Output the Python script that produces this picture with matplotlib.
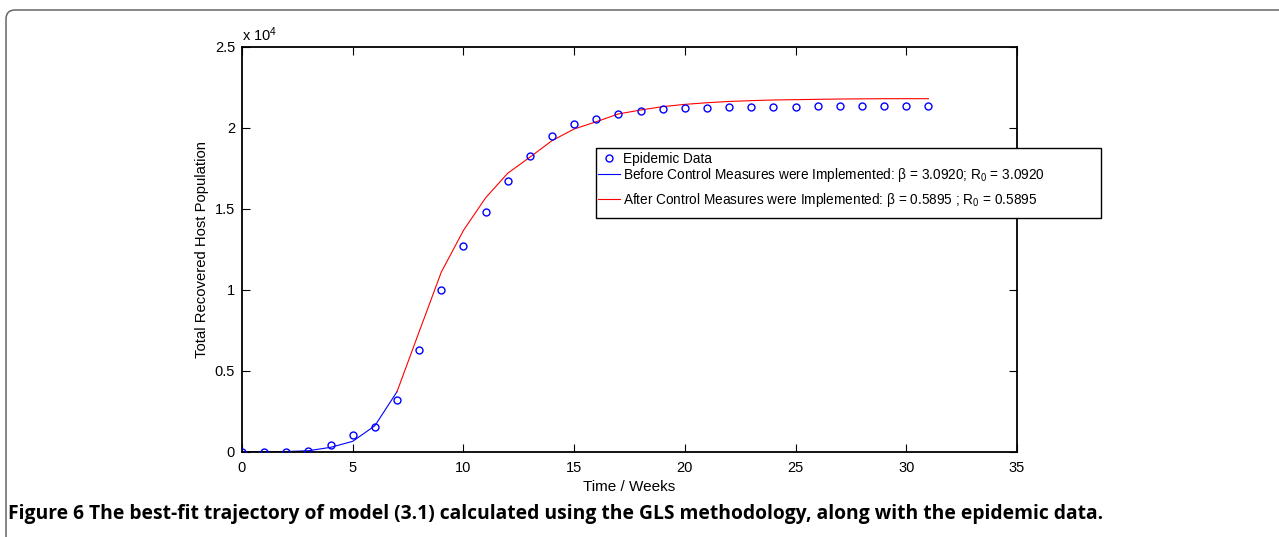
import matplotlib
matplotlib.use('Agg')

import matplotlib.pyplot as plt
from matplotlib.patches import FancyBboxPatch, Rectangle
from matplotlib.ticker import FuncFormatter, MultipleLocator
from matplotlib.transforms import IdentityTransform

plt.rcParams['font.family'] = ['Liberation Sans', 'DejaVu Sans']
plt.rcParams['mathtext.fontset'] = 'custom'
plt.rcParams['mathtext.rm'] = 'Liberation Sans'
plt.rcParams['mathtext.it'] = 'Liberation Sans'

# Weekly cumulative recovered hosts (epidemic data)
weeks = list(range(0, 32))
recovered = [0, 0, 10, 60, 410, 1050, 1540, 3200, 6300, 10000,
             12700, 14760, 16700, 18220, 19470, 20220, 20540, 20850,
             21030, 21150, 21200, 21230, 21250, 21260, 21280, 21290,
             21300, 21300, 21310, 21310, 21310, 21310]

# Model trajectory before control measures (weeks 0-7)
t_before = [0, 1, 2, 3, 4, 5, 6, 7]
fit_before = [0, 0, 10, 60, 270, 640, 1600, 3700]

# Model trajectory after control measures (weeks 7-31)
t_after = list(range(7, 32))
fit_after = [3700, 7400, 11080, 13650, 15660, 17180, 18170, 19190,
             19910, 20360, 20840, 21080, 21290, 21430, 21530, 21610,
             21660, 21700, 21720, 21740, 21760, 21770, 21780, 21780,
             21780]

legend_labels = [
    'Epidemic Data',
    r'Before Control Measures were Implemented: $\beta$ = 3.0920; R$_0$ = 3.0920',
    r'After Control Measures were Implemented: $\beta$ = 0.5895 ; R$_0$ = 0.5895',
]

W, H = 1279, 537
fig = plt.figure(figsize=(W / 100, H / 100), dpi=100)
fig.patch.set_facecolor('white')

# rounded page frame, open to the right and bottom
frame = FancyBboxPatch((6, -30), 1400, H - 10 + 30,
                       boxstyle='round,pad=0,rounding_size=9',
                       transform=IdentityTransform(), facecolor='none',
                       edgecolor='#666666', linewidth=1.1)
fig.patches.append(frame)

ax = fig.add_axes([242 / W, 1 - 451.7 / H, 775 / W, 405.2 / H])

pts, = ax.plot(weeks, recovered, 'o', color='#0000ff', markersize=5,
               markerfacecolor='none', markeredgewidth=1.0, zorder=3)
l1, = ax.plot(t_before, fit_before, color='#0000ff', linewidth=0.8)
l2, = ax.plot(t_after, fit_after, color='#ff0000', linewidth=0.8)

ax.set_xlim(0, 35)
ax.set_ylim(0, 25000)
ax.xaxis.set_major_locator(MultipleLocator(5))
ax.yaxis.set_major_locator(MultipleLocator(5000))
ax.yaxis.set_major_formatter(FuncFormatter(lambda v, p: f'{v / 1e4:g}'))
ax.tick_params(direction='in', length=5.5, width=0.8, labelsize=10.5,
               top=True, right=True, colors='black')
ax.tick_params(axis='x', pad=7)
ax.tick_params(axis='y', pad=5)
for sp in ax.spines.values():
    sp.set_linewidth(1.3)

ax.set_xlabel('Time / Weeks', fontsize=11, labelpad=3)
ax.set_ylabel('Total Recovered Host Population', fontsize=10.7, labelpad=4)
ax.text(0.0, 1.005, r'x 10$^4$', transform=ax.transAxes, fontsize=10.5,
        ha='left', va='bottom')

# legend box reaches past the right spine
box_x0, box_y0, box_x1, box_y1 = 596, 148, 1101, 218
fig.patches.append(Rectangle((box_x0 / W, 1 - box_y1 / H),
                             (box_x1 - box_x0) / W, (box_y1 - box_y0) / H,
                             transform=fig.transFigure, facecolor='white',
                             edgecolor='black', linewidth=1.0, zorder=5))
# one entry per row so the row gaps follow the subscripts
row_y = [159, 175, 200]
for handle, label, y in zip([pts, l1, l2], legend_labels, row_y):
    leg = fig.legend([handle], [label], loc='center left',
                     bbox_to_anchor=(598 / W, 1 - y / H),
                     bbox_transform=fig.transFigure, frameon=False,
                     fontsize=9.8, handlelength=1.6, handletextpad=0.25,
                     borderpad=0, borderaxespad=0)
    leg.set_zorder(6)

fig.text(8 / W, 1 - 519 / H,
         'Figure 6 The best-fit trajectory of model (3.1) calculated using the '
         'GLS methodology, along with the epidemic data.',
         fontsize=13.85, fontweight='bold', family=['Open Sans', 'DejaVu Sans'],
         ha='left', va='baseline')

fig.savefig('out.png', dpi=100, facecolor='white')
